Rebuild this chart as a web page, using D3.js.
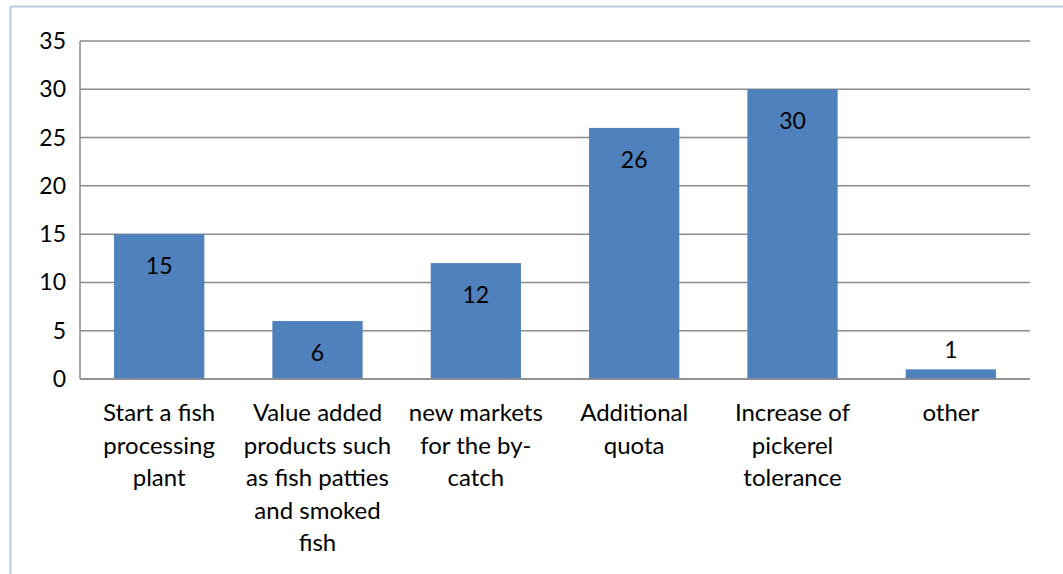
<!DOCTYPE html>
<html><head><meta charset="utf-8">
<script src="https://cdn.jsdelivr.net/npm/d3@7"></script>
<style>body{margin:0;background:#fff;} svg{display:block;}</style>
</head><body>
<svg id="c" width="1063" height="574"></svg>
<script>
const categories = [
  ["Start a fish","processing","plant"],
  ["Value added","products such","as fish patties","and smoked","fish"],
  ["new markets","for the by-","catch"],
  ["Additional","quota"],
  ["Increase of","pickerel","tolerance"],
  ["other"]
];
const values = [15, 6, 12, 26, 30, 1];
const yTicks = [0,5,10,15,20,25,30,35];

const svg = d3.select("#c");
const font = "Lato, 'Open Sans', sans-serif";
const L = 80, R = 1030, T = 41, B = 379;

// outer border
svg.append("line").attr("x1",10.5).attr("x2",10.5).attr("y1",6).attr("y2",574).attr("stroke","#b9cde5").attr("stroke-width",2);
svg.append("line").attr("x1",10).attr("x2",1063).attr("y1",6.5).attr("y2",6.5).attr("stroke","#b9cde5").attr("stroke-width",2);

const x = d3.scaleBand().domain(d3.range(categories.length)).range([L,R]).paddingInner(0.43).paddingOuter(0.215);
const y = d3.scaleLinear().domain([0,35]).range([B,T]);

// gridlines
svg.append("g").selectAll("line").data(yTicks).join("line")
  .attr("x1",L).attr("x2",R).attr("y1",d=>y(d)).attr("y2",d=>y(d))
  .attr("stroke","#8c8c8c").attr("stroke-width",1.5);
// left axis line
svg.append("line").attr("x1",L).attr("x2",L).attr("y1",T).attr("y2",B).attr("stroke","#8c8c8c").attr("stroke-width",1.5);

// y tick labels
svg.append("g").selectAll("text").data(yTicks).join("text")
  .attr("x",66).attr("y",d=>y(d)).attr("dy","0.35em").attr("text-anchor","end")
  .attr("font-family",font).attr("font-size",23).attr("fill","#000").text(d=>d);

// bars
svg.append("g").selectAll("rect").data(values).join("rect")
  .attr("x",(d,i)=>x(i)).attr("width",x.bandwidth())
  .attr("y",d=>y(d)).attr("height",d=>B-y(d))
  .attr("fill","#4f81bd");
// redraw baseline over bars
svg.append("line").attr("x1",L).attr("x2",R).attr("y1",y(0)).attr("y2",y(0)).attr("stroke","#8c8c8c").attr("stroke-width",1.5);

// data labels
svg.append("g").selectAll("text").data(values).join("text")
  .attr("x",(d,i)=>x(i)+x.bandwidth()/2)
  .attr("y",d=> (B-y(d))>40 ? y(d)+32 : y(d)-19)
  .attr("dy","0.35em").attr("text-anchor","middle")
  .attr("font-family",font).attr("font-size",23).attr("fill","#000").text(d=>d);

// category labels
const cg = svg.append("g").selectAll("text").data(categories).join("text")
  .attr("text-anchor","middle").attr("font-family",font).attr("font-size",24).attr("fill","#000");
cg.selectAll("tspan").data((d,i)=>d.map(s=>({s,i}))).join("tspan")
  .attr("x",d=>x(d.i)+x.bandwidth()/2)
  .attr("y",(d,j)=>413+j*32.5).attr("dy","0.35em").text(d=>d.s);
</script>
</body></html>
